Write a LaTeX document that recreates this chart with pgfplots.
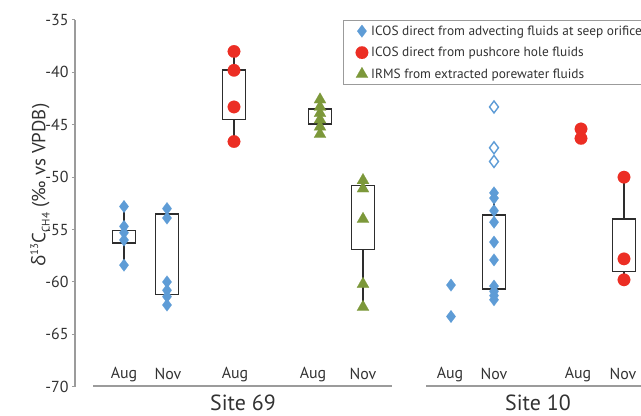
\documentclass[border=0pt]{standalone}
\usepackage{pgfplots}
\pgfplotsset{compat=1.18}
\usepackage{fontspec}
\setmainfont{PT Sans}
\newfontfamily\grk{Open Sans}
\definecolor{cblue}{RGB}{94,156,214}
\definecolor{cred}{RGB}{236,46,36}
\definecolor{cgreen}{RGB}{124,152,58}
\definecolor{axgray}{RGB}{155,155,155}
\definecolor{boxc}{RGB}{45,45,45}
\definecolor{txt}{RGB}{50,50,50}
\begin{document}
\begin{tikzpicture}
\path[use as bounding box] (0,0) rectangle (641bp,416bp);
\begin{axis}[
  at={(75bp,29.3bp)}, anchor=south west,
  scale only axis, width=566bp, height=366.7bp,
  xmin=7.5, xmax=64.1, ymin=-70, ymax=-35,
  axis x line=none, axis y line*=left,
  ytick={-70,-65,...,-35},
  y axis line style={draw=axgray, line width=1.5bp},
  major tick style={draw=axgray, line width=1bp},
  tick align=outside, major tick length=3bp,
  /pgf/number format/assume math mode=true,
  yticklabel style={font=\fontsize{16}{18}\selectfont, text=txt},
  clip=false,
  unbounded coords=jump,
  legend style={at={(0.4735,1)}, anchor=north west, draw=axgray, line width=1.3bp,
    font=\fontsize{13.4}{15}\selectfont, text=txt, inner xsep=12bp, inner ysep=3bp,
    row sep=6.5bp, /tikz/every odd column/.append style={column sep=1bp}},
  legend cell align=left,
  legend image code/.code={\draw[#1] plot coordinates {(0bp,0bp)};},
]
% whiskers
\addplot[boxc, line width=1.6bp, forget plot] coordinates {
 (12.4,-52.8)(12.4,-55.1) (12.4,nan) (12.4,-56.3)(12.4,-58.4) (12.4,nan)
 (16.7,-53.0)(16.7,-53.5) (16.7,nan) (16.7,-61.2)(16.7,-62.2) (16.7,nan)
 (23.4,-38.0)(23.4,-39.8) (23.4,nan) (23.4,-44.5)(23.4,-46.6) (23.4,nan)
 (32.0,-42.6)(32.0,-43.5) (32.0,nan) (32.0,-44.9)(32.0,-45.9) (32.0,nan)
 (36.3,-50.3)(36.3,-50.8) (36.3,nan) (36.3,-56.9)(36.3,-62.4) (36.3,nan)
 (49.4,-51.5)(49.4,-53.6) (49.4,nan) (49.4,-60.7)(49.4,-61.7) (49.4,nan)
 (62.4,-50.0)(62.4,-54.0) (62.4,nan) (62.4,-59.0)(62.4,-59.8)
};
% boxes
\addplot[boxc, line width=1.8bp, forget plot] coordinates {(11.25,-56.3)(13.55,-56.3)(13.55,-55.1)(11.25,-55.1)} --cycle;
\addplot[boxc, line width=1.8bp, forget plot] coordinates {(15.55,-61.2)(17.85,-61.2)(17.85,-53.5)(15.55,-53.5)} --cycle;
\addplot[boxc, line width=1.8bp, forget plot] coordinates {(22.25,-44.5)(24.55,-44.5)(24.55,-39.8)(22.25,-39.8)} --cycle;
\addplot[boxc, line width=1.8bp, forget plot] coordinates {(30.85,-44.9)(33.15,-44.9)(33.15,-43.5)(30.85,-43.5)} --cycle;
\addplot[boxc, line width=1.8bp, forget plot] coordinates {(35.15,-56.9)(37.45,-56.9)(37.45,-50.8)(35.15,-50.8)} --cycle;
\addplot[boxc, line width=1.8bp, forget plot] coordinates {(48.25,-60.7)(50.55,-60.7)(50.55,-53.6)(48.25,-53.6)} --cycle;
\addplot[boxc, line width=1.8bp, forget plot] coordinates {(61.25,-59.0)(63.55,-59.0)(63.55,-54.0)(61.25,-54.0)} --cycle;
% open diamonds
\addplot[cblue, only marks, mark=diamond*, mark size=6bp, mark options={fill=white, draw=cblue, line width=1.4bp}, forget plot] coordinates {
 (49.4,-43.3)(49.4,-47.2)(49.4,-48.5)};
% blue filled
\addplot[cblue, only marks, mark=diamond*, mark size=6.3bp, mark options={fill=cblue, draw=cblue, line width=0.1bp}] coordinates {
 (12.4,-52.8)(12.4,-54.7)(12.4,-55.3)(12.4,-56.0)(12.4,-58.4)
 (16.7,-53.0)(16.7,-53.9)(16.7,-60.0)(16.7,-60.8)(16.7,-61.4)(16.7,-62.2)
 (45.1,-60.3)(45.1,-63.3)
 (49.4,-51.5)(49.4,-52.0)(49.4,-53.2)(49.4,-54.3)(49.4,-56.2)(49.4,-57.9)(49.4,-60.4)(49.4,-60.9)(49.4,-61.3)(49.4,-61.7)};
\addlegendentry{ICOS direct from advecting fluids at seep orifice}
% red
\addplot[cred, only marks, mark=*, mark size=6.3bp, mark options={fill=cred, draw=cred, line width=0.1bp}] coordinates {
 (23.4,-38.0)(23.4,-39.8)(23.4,-43.3)(23.4,-46.6)(58.1,-45.4)(58.1,-46.3)(62.4,-50.0)(62.4,-57.8)(62.4,-59.8)};
\addlegendentry{ICOS direct from pushcore hole fluids}
% green
\addplot[cgreen, only marks, mark=triangle*, mark size=7bp, mark options={fill=cgreen, draw=cgreen, line width=0.1bp}] coordinates {
 (32.0,-42.6)(32.0,-43.3)(32.0,-43.9)(32.0,-44.5)(32.0,-45.2)(32.0,-45.9)
 (36.3,-50.3)(36.3,-51.1)(36.3,-54.0)(36.3,-60.2)(36.3,-62.4)};
\addlegendentry{IRMS from extracted porewater fluids}
% category labels
\foreach \xx/\lab in {12.4/Aug,16.8/Nov,23.5/Aug,31.3/Aug,36.3/Nov,45.0/Aug,49.4/Nov,57.8/Aug,62.3/Nov}{
  \edef\tmp{\noexpand\node[font=\noexpand\fontsize{16}{18}\noexpand\selectfont, text=txt] at (axis cs:\xx,-68.8) {\lab};}
  \tmp
}
\draw[axgray, line width=2bp] (axis cs:9.3,-69.95) -- (axis cs:39.2,-69.95);
\draw[axgray, line width=2bp] (axis cs:42.6,-69.95) -- (axis cs:66,-69.95);
\end{axis}
\node[font=\fontsize{22}{25}\selectfont, text=txt] at (243bp,13.5bp) {Site 69};
\node[font=\fontsize{22}{25}\selectfont, text=txt] at (538bp,13.5bp) {Site 10};
\node[rotate=90, font=\fontsize{19}{22}\selectfont, text=txt] at (40bp,231bp)
  {{\grk δ}\raisebox{0.75ex}{\fontsize{11}{12}\selectfont 13}C\raisebox{-0.45ex}{\fontsize{11}{12}\selectfont CH4} (‰ vs VPDB)};
\end{tikzpicture}
\end{document}
